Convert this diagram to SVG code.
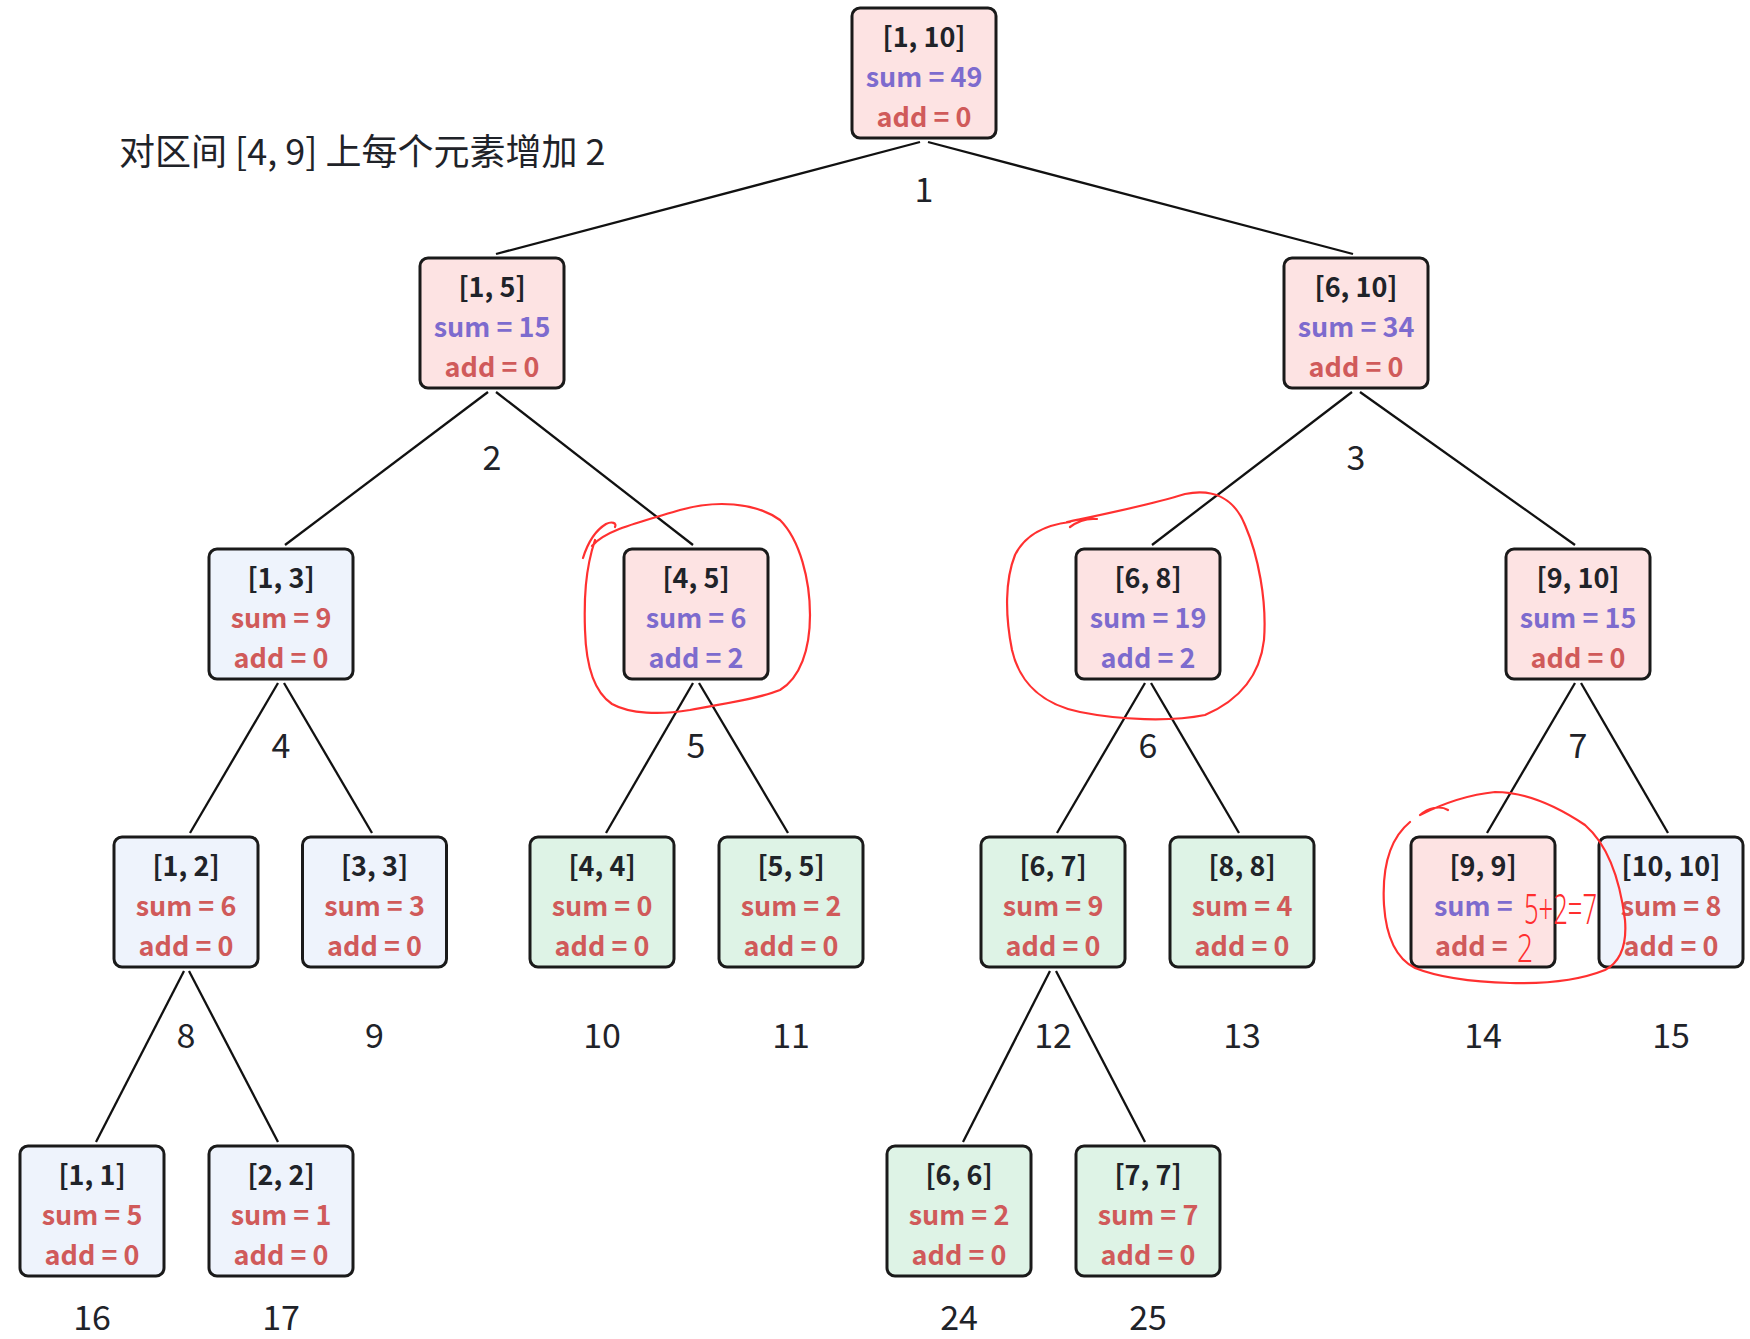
<svg xmlns="http://www.w3.org/2000/svg" width="1750" height="1339" viewBox="0 0 1750 1339">
<style>
.box{stroke:#1a1a1a;stroke-width:3;}
.pk{fill:#fde3e3;}
.bl{fill:#eef3fc;}
.gr{fill:#def3e6;}
text{font-family:"Noto Sans CJK SC","Noto Sans",sans-serif;}
.t{font-size:27px;font-weight:700;fill:#1f2329;text-anchor:middle;}
.p{font-size:27px;font-weight:700;fill:#7d6bce;text-anchor:middle;}
.r{font-size:27px;font-weight:700;fill:#d05a5a;text-anchor:middle;}
.idx{font-size:34px;font-weight:400;fill:#1f2329;text-anchor:middle;}
.edge{stroke:#111;stroke-width:2.3;fill:none;}
.hand{stroke:#ff3030;stroke-width:2.2;fill:none;stroke-linecap:round;}
.hw{font-family:"Noto Sans",sans-serif;font-weight:300;fill:#ff2e2e;}
</style>
<rect width="1750" height="1339" fill="#ffffff"/>
<text x="119" y="165" style="font-size:36px;fill:#1f2329;">对区间 [4, 9] 上每个元素增加 2</text>
<g id="connectors">
<line class="edge" x1="920" y1="142" x2="496" y2="254"/>
<line class="edge" x1="928" y1="142" x2="1353" y2="254"/>
<line class="edge" x1="488" y1="392" x2="285" y2="545"/>
<line class="edge" x1="496" y1="392" x2="693" y2="545"/>
<line class="edge" x1="1352" y1="392" x2="1152" y2="545"/>
<line class="edge" x1="1360" y1="392" x2="1575" y2="545"/>
<line class="edge" x1="278" y1="683" x2="190" y2="833"/>
<line class="edge" x1="284" y1="683" x2="372" y2="833"/>
<line class="edge" x1="693" y1="683" x2="606" y2="833"/>
<line class="edge" x1="699" y1="683" x2="788" y2="833"/>
<line class="edge" x1="1145" y1="683" x2="1057" y2="833"/>
<line class="edge" x1="1151" y1="683" x2="1239" y2="833"/>
<line class="edge" x1="1575" y1="683" x2="1487" y2="833"/>
<line class="edge" x1="1581" y1="683" x2="1668" y2="833"/>
<line class="edge" x1="184" y1="971" x2="96" y2="1142"/>
<line class="edge" x1="189" y1="971" x2="278" y2="1142"/>
<line class="edge" x1="1050" y1="971" x2="963" y2="1142"/>
<line class="edge" x1="1056" y1="971" x2="1145" y2="1142"/>
</g>
<g id="n1"><rect class="box pk" x="852" y="8" width="144" height="130" rx="8"/><text class="t" x="924" y="46.5">[1, 10]</text><text class="p" x="924" y="86.5">sum = 49</text><text class="r" x="924" y="126.5">add = 0</text><text class="idx" x="924" y="202">1</text></g>
<g id="n2"><rect class="box pk" x="420" y="258" width="144" height="130" rx="8"/><text class="t" x="492" y="296.5">[1, 5]</text><text class="p" x="492" y="336.5">sum = 15</text><text class="r" x="492" y="376.5">add = 0</text><text class="idx" x="492" y="470">2</text></g>
<g id="n3"><rect class="box pk" x="1284" y="258" width="144" height="130" rx="8"/><text class="t" x="1356" y="296.5">[6, 10]</text><text class="p" x="1356" y="336.5">sum = 34</text><text class="r" x="1356" y="376.5">add = 0</text><text class="idx" x="1356" y="470">3</text></g>
<g id="n4"><rect class="box bl" x="209" y="549" width="144" height="130" rx="8"/><text class="t" x="281" y="587.5">[1, 3]</text><text class="r" x="281" y="627.5">sum = 9</text><text class="r" x="281" y="667.5">add = 0</text><text class="idx" x="281" y="758">4</text></g>
<g id="n5"><rect class="box pk" x="624" y="549" width="144" height="130" rx="8"/><text class="t" x="696" y="587.5">[4, 5]</text><text class="p" x="696" y="627.5">sum = 6</text><text class="p" x="696" y="667.5">add = 2</text><text class="idx" x="696" y="758">5</text></g>
<g id="n6"><rect class="box pk" x="1076" y="549" width="144" height="130" rx="8"/><text class="t" x="1148" y="587.5">[6, 8]</text><text class="p" x="1148" y="627.5">sum = 19</text><text class="p" x="1148" y="667.5">add = 2</text><text class="idx" x="1148" y="758">6</text></g>
<g id="n7"><rect class="box pk" x="1506" y="549" width="144" height="130" rx="8"/><text class="t" x="1578" y="587.5">[9, 10]</text><text class="p" x="1578" y="627.5">sum = 15</text><text class="r" x="1578" y="667.5">add = 0</text><text class="idx" x="1578" y="758">7</text></g>
<g id="n8"><rect class="box bl" x="114" y="837" width="144" height="130" rx="8"/><text class="t" x="186" y="875.5">[1, 2]</text><text class="r" x="186" y="915.5">sum = 6</text><text class="r" x="186" y="955.5">add = 0</text><text class="idx" x="186" y="1048">8</text></g>
<g id="n9"><rect class="box bl" x="302.5" y="837" width="144" height="130" rx="8"/><text class="t" x="374.5" y="875.5">[3, 3]</text><text class="r" x="374.5" y="915.5">sum = 3</text><text class="r" x="374.5" y="955.5">add = 0</text><text class="idx" x="374.5" y="1048">9</text></g>
<g id="n10"><rect class="box gr" x="530" y="837" width="144" height="130" rx="8"/><text class="t" x="602" y="875.5">[4, 4]</text><text class="r" x="602" y="915.5">sum = 0</text><text class="r" x="602" y="955.5">add = 0</text><text class="idx" x="602" y="1048">10</text></g>
<g id="n11"><rect class="box gr" x="719" y="837" width="144" height="130" rx="8"/><text class="t" x="791" y="875.5">[5, 5]</text><text class="r" x="791" y="915.5">sum = 2</text><text class="r" x="791" y="955.5">add = 0</text><text class="idx" x="791" y="1048">11</text></g>
<g id="n12"><rect class="box gr" x="981" y="837" width="144" height="130" rx="8"/><text class="t" x="1053" y="875.5">[6, 7]</text><text class="r" x="1053" y="915.5">sum = 9</text><text class="r" x="1053" y="955.5">add = 0</text><text class="idx" x="1053" y="1048">12</text></g>
<g id="n13"><rect class="box gr" x="1170" y="837" width="144" height="130" rx="8"/><text class="t" x="1242" y="875.5">[8, 8]</text><text class="r" x="1242" y="915.5">sum = 4</text><text class="r" x="1242" y="955.5">add = 0</text><text class="idx" x="1242" y="1048">13</text></g>
<g id="n14"><rect class="box pk" x="1411" y="837" width="144" height="130" rx="8"/><text class="t" x="1483" y="875.5">[9, 9]</text><text class="p" x="1434" y="915.5" style="text-anchor:start">sum =</text><text class="r" x="1435" y="955.5" style="text-anchor:start">add =</text><text class="hw" transform="translate(1524 924) scale(0.61 1)" font-size="42">5+2=7</text><text class="hw" transform="translate(1517 962) scale(0.74 1)" font-size="38">2</text><text class="idx" x="1483" y="1048">14</text></g>
<g id="n15"><rect class="box bl" x="1599" y="837" width="144" height="130" rx="8"/><text class="t" x="1671" y="875.5">[10, 10]</text><text class="r" x="1671" y="915.5">sum = 8</text><text class="r" x="1671" y="955.5">add = 0</text><text class="idx" x="1671" y="1048">15</text></g>
<g id="n16"><rect class="box bl" x="20" y="1146" width="144" height="130" rx="8"/><text class="t" x="92" y="1184.5">[1, 1]</text><text class="r" x="92" y="1224.5">sum = 5</text><text class="r" x="92" y="1264.5">add = 0</text><text class="idx" x="92" y="1330">16</text></g>
<g id="n17"><rect class="box bl" x="209" y="1146" width="144" height="130" rx="8"/><text class="t" x="281" y="1184.5">[2, 2]</text><text class="r" x="281" y="1224.5">sum = 1</text><text class="r" x="281" y="1264.5">add = 0</text><text class="idx" x="281" y="1330">17</text></g>
<g id="n24"><rect class="box gr" x="887" y="1146" width="144" height="130" rx="8"/><text class="t" x="959" y="1184.5">[6, 6]</text><text class="r" x="959" y="1224.5">sum = 2</text><text class="r" x="959" y="1264.5">add = 0</text><text class="idx" x="959" y="1330">24</text></g>
<g id="n25"><rect class="box gr" x="1076" y="1146" width="144" height="130" rx="8"/><text class="t" x="1148" y="1184.5">[7, 7]</text><text class="r" x="1148" y="1224.5">sum = 7</text><text class="r" x="1148" y="1264.5">add = 0</text><text class="idx" x="1148" y="1330">25</text></g>
<g id="annotations">
<path class="hand" d="M 583 558 C 588 542 596 530 606 524 C 612 521 617 523 615 527 M 592 546 C 605 530 640 522 680 510 C 715 500 755 502 780 520 C 800 540 810 580 810 615 C 810 650 800 678 780 690 C 755 700 720 704 690 710 C 660 715 630 714 612 704 C 594 692 586 665 585 630 C 584 600 585 570 595 540"/>
<path class="hand" d="M 1070 527 C 1078 521 1088 518 1097 519 M 1067 522 C 1100 515 1150 505 1185 494 C 1215 488 1235 500 1245 525 C 1258 555 1267 600 1264 640 C 1260 675 1240 700 1205 715 C 1170 722 1120 720 1080 712 C 1045 705 1020 685 1012 650 C 1005 615 1005 580 1015 555 C 1025 535 1045 525 1070 522"/>
<path class="hand" d="M 1420 815 C 1428 808 1440 805 1448 810 M 1420 815 C 1440 805 1465 795 1495 792 C 1525 792 1555 805 1585 825 C 1608 845 1620 880 1625 920 C 1627 945 1620 962 1605 970 C 1580 980 1545 984 1510 983 C 1475 982 1440 978 1415 968 C 1395 958 1386 935 1384 905 C 1382 870 1388 840 1410 822"/>
</g>
</svg>
